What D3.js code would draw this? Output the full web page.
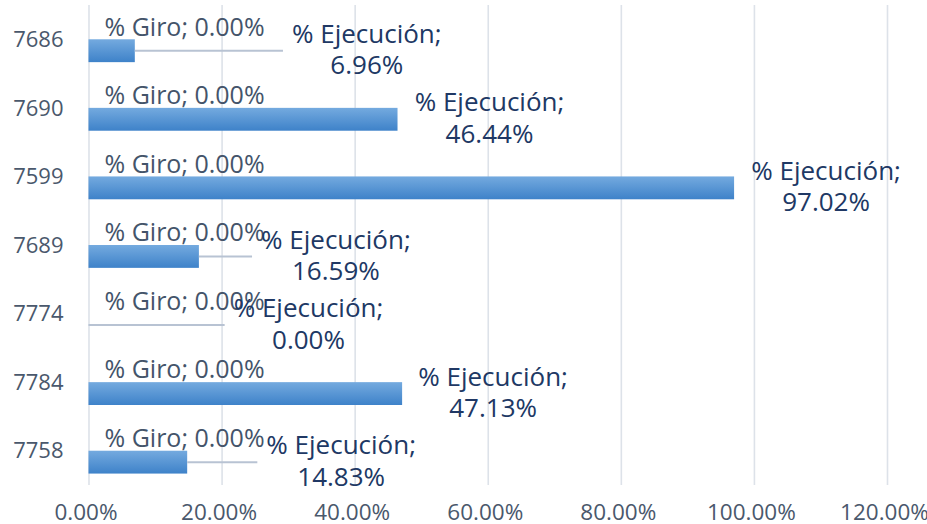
<!DOCTYPE html>
<html><head><meta charset="utf-8">
<script src="https://cdn.jsdelivr.net/npm/d3@7"></script>
<style>body{margin:0;background:#fff}svg{display:block}</style>
</head><body><svg id="c" width="927" height="524"></svg>
<script>
// ---- data ----
const categories = ["7686","7690","7599","7689","7774","7784","7758"];
const seriesNames = ["% Giro","% Ejecución"];
const giro = [0.00,0.00,0.00,0.00,0.00,0.00,0.00];
const ejecucion = [6.96,46.44,97.02,16.59,0.00,47.13,14.83];
const xTicks = [0,20,40,60,80,100,120];

// ---- layout (manual label placement, px from bar end to label centre) ----
const ejeLabelShift = [232,92,92,137,220,91,154];

const W = 927, H = 524;
const plot = {left: 88.5, right: 887, top: 5, bottom: 485};
const FONT = "'Open Sans', sans-serif";

const svg = d3.select("#c");
const defs = svg.append("defs");
const grad = defs.append("linearGradient").attr("id","barGrad")
  .attr("x1",0).attr("y1",0).attr("x2",0).attr("y2",1);
grad.append("stop").attr("offset","0%").attr("stop-color","#74AADF");
grad.append("stop").attr("offset","100%").attr("stop-color","#3E82C9");

const x = d3.scaleLinear().domain([0,120]).range([plot.left, plot.right]);
const y = d3.scaleBand().domain(categories).range([plot.top, plot.bottom]).padding(0);
const ys = d3.scaleBand().domain(seriesNames).range([0, y.bandwidth()])
  .paddingInner(0).paddingOuter(0.5);

// gridlines
const grid = svg.append("g").attr("transform",`translate(0,${plot.bottom})`)
  .call(d3.axisBottom(x).tickValues(xTicks).tickSize(-(plot.bottom-plot.top)).tickFormat(""));
grid.select(".domain").remove();
grid.selectAll("line").attr("stroke","#DDE2E9").attr("stroke-width",1.6);

// x axis labels
const xa = svg.append("g").attr("transform",`translate(0,${plot.bottom})`)
  .call(d3.axisBottom(x).tickValues(xTicks).tickSize(0).tickPadding(27)
    .tickFormat(d => d.toFixed(2) + "%"));
xa.select(".domain").remove();
xa.selectAll("text").attr("font-family",FONT).attr("font-size",22.5)
  .attr("fill","#4A586C").attr("dy","0.35em").attr("dx",-3);

// y axis labels
const ya = svg.append("g").attr("transform",`translate(${plot.left},0)`)
  .call(d3.axisLeft(y).tickSize(0).tickPadding(25));
ya.select(".domain").remove();
ya.selectAll("text").attr("font-family",FONT).attr("font-size",22)
  .attr("fill","#4A586C").attr("dy","0.35em");

const rows = categories.map((c,i) => ({cat:c, giro:giro[i], eje:ejecucion[i], shift:ejeLabelShift[i]}));

// bars
const barG = svg.append("g");
barG.selectAll("rect.g").data(rows).join("rect").attr("class","g")
  .attr("x", x(0)).attr("y", d => y(d.cat) + ys("% Giro"))
  .attr("width", d => x(d.giro) - x(0)).attr("height", ys.bandwidth())
  .attr("fill","url(#barGrad)");
barG.selectAll("rect.e").data(rows).join("rect").attr("class","e")
  .attr("x", x(0)).attr("y", d => y(d.cat) + ys("% Ejecución"))
  .attr("width", d => x(d.eje) - x(0)).attr("height", ys.bandwidth())
  .attr("fill","url(#barGrad)");

// Giro labels
svg.append("g").selectAll("text").data(rows).join("text")
  .attr("x", d => x(d.giro) + 16)
  .attr("y", d => y(d.cat) + ys("% Giro") + ys.bandwidth()/2 - 1)
  .attr("dy","0.35em")
  .attr("font-family",FONT).attr("font-size",25).attr("fill","#44546A")
  .text(d => `% Giro; ${d.giro.toFixed(2)}%`);

// Ejecucion labels with leader lines
const leadG = svg.append("g");
const labG = svg.append("g");
rows.forEach(d => {
  const cy = y(d.cat) + ys("% Ejecución") + ys.bandwidth()/2;
  const cx = x(d.eje) + d.shift;
  const t = labG.append("text").attr("text-anchor","middle")
    .attr("font-family",FONT).attr("font-size",26).attr("fill","#203864");
  t.append("tspan").attr("x",cx).attr("y",cy - 17).attr("dy","0.35em").text("% Ejecución;");
  t.append("tspan").attr("x",cx).attr("y",cy + 14.5).attr("dy","0.35em").text(d.eje.toFixed(2) + "%");
  const bb = t.node().getBBox();
  const x0 = x(d.eje), x1 = bb.x - 9;
  if (x1 - x0 > 20) {
    leadG.append("line").attr("x1",x0).attr("x2",x1).attr("y1",cy).attr("y2",cy)
      .attr("stroke","#B8C3D3").attr("stroke-width",2);
  }
});
</script></body></html>
